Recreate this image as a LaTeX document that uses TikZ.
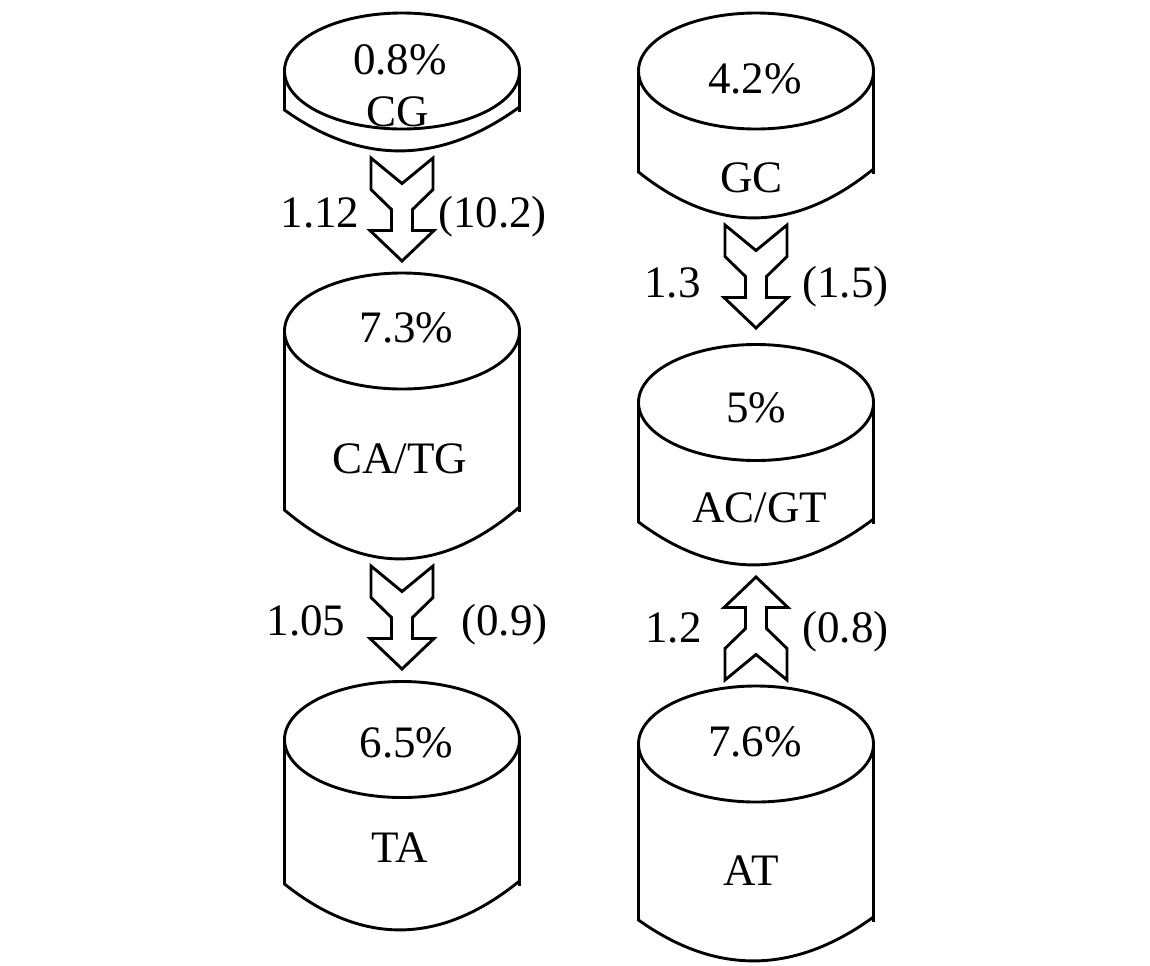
\documentclass[tikz,border=0pt]{standalone}
\usepackage{fontspec}
\setmainfont{Liberation Serif}
\usetikzlibrary{calc}
\tikzset{
  lbl/.style={font=\fontsize{22.5}{27}\selectfont, inner sep=0pt, anchor=base},
  cylline/.style={line width=1.45pt, line join=miter},
  blockarrow/.pic={
    \draw[cylline] (-31,-51.5) -- (0,-26) -- (31,-51.5) -- (31,-20) -- (10.5,0)
      -- (10.5,21) -- (32,21) -- (0,51.5) -- (-32,21) -- (-10.5,21) -- (-10.5,0)
      -- (-31,-20) -- cycle;
  }
}
% #1 name, #2 cx, #3 centre of top ellipse, #4 end of the sides, #5 lowest point
\newcommand{\cylinderdraw}[5]{%
  \draw[cylline] (#2,#3) ellipse [x radius=117.5, y radius=58];
  \draw[cylline] (#2-117.5,#3) -- (#2-117.5,#4)
    .. controls (#2-39,{#4+(#5-#4)*4/3}) and (#2+39,{#4+(#5-#4)*4/3-2}) .. (#2+117.5,#4-3);
  \draw[cylline] (#2+117.5,#3) -- (#2+117.5,#4+2);
  \coordinate (#1-top) at (#2,#3-58);
  \coordinate (#1-bot) at (#2,#5);
}
\begin{document}
\begin{tikzpicture}[x=0.5pt,y=-0.5pt]
\useasboundingbox (0,0) rectangle (1150,965);

% cylinders
\cylinderdraw{CG}{402}{71}{110}{152}
\cylinderdraw{GC}{756}{71}{172}{219}
\cylinderdraw{CATG}{402}{331}{510}{560}
\cylinderdraw{ACGT}{756}{402.5}{522}{566}
\cylinderdraw{TA}{402}{739.5}{884}{931}
\cylinderdraw{AT}{756}{744}{920}{962}

% texts in cylinders
\node[lbl] (tCGp) at (400,74) {0.8\%};
\node[lbl] (tCG) at (398,126.5) {CG};
\node[lbl] (tGCp) at (755,93) {4.2\%};
\node[lbl] (tGC) at (751.5,192) {GC};
\node[lbl] (tCATGp) at (406.5,342) {7.3\%};
\node[lbl] (tCATG) at (399.5,473) {CA/TG};
\node[lbl] (tACGTp) at (756,422) {5\%};
\node[lbl] (tACGT) at (759.5,522) {AC/GT};
\node[lbl] (tTAp) at (406.5,757) {6.5\%};
\node[lbl] (tTA) at (399.5,862) {TA};
\node[lbl] (tATp) at (755,756) {7.6\%};
\node[lbl] (tAT) at (751,885) {AT};

% block arrows between cylinders
\path ($(CG-bot)!28.75pt!(CATG-top)$) pic {blockarrow};
\path ($(GC-bot)!28.75pt!(ACGT-top)$) pic {blockarrow};
\path ($(CATG-bot)!28.75pt!(TA-top)$) pic {blockarrow};
\path ($(AT-top)!28.75pt!(ACGT-bot)$) pic[rotate=180] {blockarrow};

% arrow labels
\node[lbl] (l1) at (320,227) {1.12};
\node[lbl] (r1) at (492.5,227) {(10.2)};
\node[lbl] (l2) at (306,635) {1.05};
\node[lbl] (r2) at (504.5,635) {(0.9)};
\node[lbl] (l3) at (672.5,297) {1.3};
\node[lbl] (r3) at (845.5,297) {(1.5)};
\node[lbl] (l4) at (673.5,642) {1.2};
\node[lbl] (r4) at (845.5,642) {(0.8)};
\end{tikzpicture}
\end{document}
